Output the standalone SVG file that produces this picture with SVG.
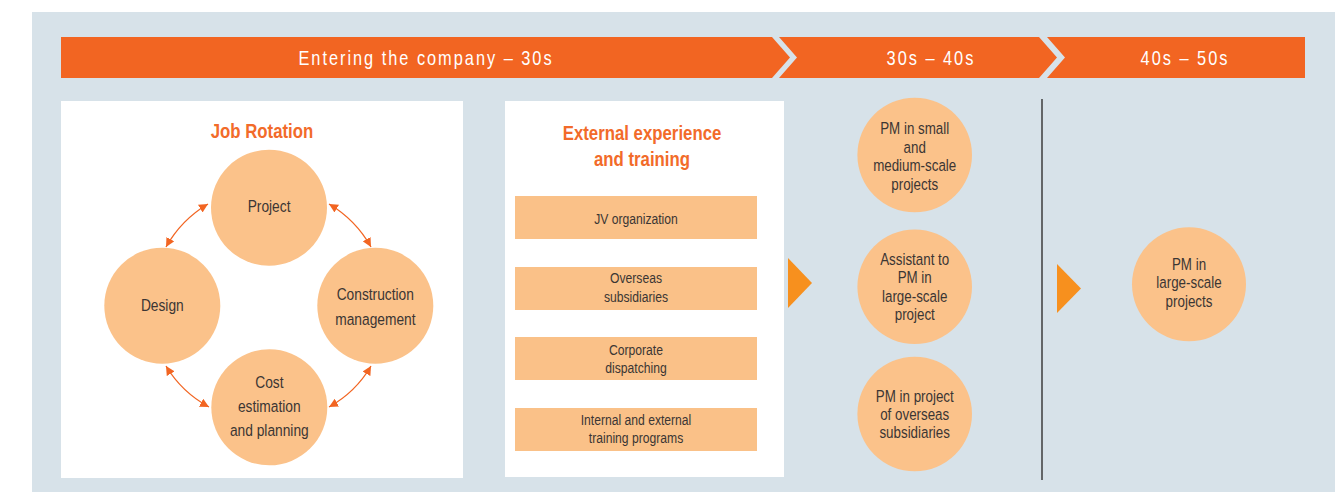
<svg xmlns="http://www.w3.org/2000/svg" width="1335" height="492" viewBox="0 0 1335 492">
  <style>
    .bg { fill: #d7e2e9; }
    .band { fill: #f26522; }
    .panel { fill: #ffffff; }
    .bubble { fill: #fbc28a; }
    .box { fill: #fac188; }
    .step { fill: #f7901e; }
    /* narrow look: horizontally condensed type around each label's own centre */
    .txt, .band-txt, .title { font-family: "Liberation Sans", Arial, sans-serif; text-anchor: middle; transform-box: fill-box; transform-origin: center; }
    .txt { fill: #3b3634; transform: scaleX(0.81); }
    .c17 { font-size: 17px; }
    .c16 { font-size: 16.5px; }
    .c15 { font-size: 15px; }
    .band-txt { font-size: 20px; fill: #ffffff; letter-spacing: 2.4px; transform: scaleX(0.82); }
    .title { font-size: 20px; font-weight: bold; fill: #f26b2a; transform: scaleX(0.84); }
    .link { fill: none; stroke: #f26522; stroke-width: 1.3; marker-start: url(#tip); marker-end: url(#tip); }
  </style>
  <defs>
    <marker id="tip" viewBox="0 0 10 10" refX="10" refY="5" markerWidth="9" markerHeight="9" markerUnits="userSpaceOnUse" orient="auto-start-reverse">
      <path d="M0,0 L10,5 L0,10 Z" fill="#f26522"/>
    </marker>
  </defs>

  <rect class="bg" x="32" y="12" width="1303" height="480"/>

  <!-- timeline band -->
  <g id="band-entry">
    <polygon class="band" points="61,37 772,37 790,57.5 772,78 61,78"/>
    <text class="band-txt" x="426" y="65.5">Entering the company – 30s</text>
  </g>
  <g id="band-30s">
    <polygon class="band" points="779,37 1039,37 1057,57.5 1039,78 779,78 797,57.5"/>
    <text class="band-txt" x="931" y="65.5">30s – 40s</text>
  </g>
  <g id="band-40s">
    <polygon class="band" points="1047,37 1305,37 1305,78 1047,78 1065,57.5"/>
    <text class="band-txt" x="1185" y="65.5">40s – 50s</text>
  </g>

  <!-- job rotation panel -->
  <g id="job-rotation">
    <rect class="panel" x="61" y="101" width="402" height="377"/>
    <text class="title" x="262" y="137.7">Job Rotation</text>
  </g>
  <g id="project">
    <circle class="bubble" cx="269" cy="207.7" r="58"/>
    <text class="txt c17" x="269" y="212.3">Project</text>
  </g>
  <g id="design">
    <circle class="bubble" cx="162.3" cy="305.7" r="58"/>
    <text class="txt c17" x="162.3" y="311">Design</text>
  </g>
  <g id="construction">
    <circle class="bubble" cx="375.3" cy="305.7" r="58"/>
    <text class="txt c17" x="375.3" y="300.5">Construction</text>
    <text class="txt c17" x="375.3" y="325">management</text>
  </g>
  <g id="cost">
    <circle class="bubble" cx="269.3" cy="407.3" r="58"/>
    <text class="txt c17" x="269.3" y="388.3">Cost</text>
    <text class="txt c17" x="269.3" y="412.3">estimation</text>
    <text class="txt c17" x="269.3" y="436">and planning</text>
  </g>

  <!-- external experience panel -->
  <g id="external">
    <rect class="panel" x="505" y="101" width="279" height="376"/>
    <text class="title" x="642" y="140">External experience</text>
    <text class="title" x="642" y="166">and training</text>
  </g>
  <g id="jv">
    <rect class="box" x="515" y="196" width="242" height="43"/>
    <text class="txt c15" x="636" y="224.3">JV organization</text>
  </g>
  <g id="overseas">
    <rect class="box" x="515" y="267" width="242" height="43"/>
    <text class="txt c15" x="636" y="283.3">Overseas</text>
    <text class="txt c15" x="636" y="301.7">subsidiaries</text>
  </g>
  <g id="dispatching">
    <rect class="box" x="515" y="337" width="242" height="43"/>
    <text class="txt c15" x="636" y="355">Corporate</text>
    <text class="txt c15" x="636" y="372.7">dispatching</text>
  </g>
  <g id="training">
    <rect class="box" x="515" y="408" width="242" height="43"/>
    <text class="txt c15" x="636" y="425">Internal and external</text>
    <text class="txt c15" x="636" y="443.3">training programs</text>
  </g>

  <!-- step markers and divider -->
  <g id="step-1">
    <polygon class="step" points="788,258 812,283 788,308"/>
  </g>
  <g id="step-2">
    <polygon class="step" points="1057,264 1081,288.5 1057,313"/>
  </g>
  <g id="divider">
    <line x1="1042" y1="99" x2="1042" y2="480" stroke="#3c3c3c" stroke-width="1.5"/>
  </g>

  <!-- 30s–40s roles -->
  <g id="pm-small">
    <circle class="bubble" cx="914.7" cy="155" r="57.3"/>
    <text class="txt c16" x="914.7" y="134.3">PM in small</text>
    <text class="txt c16" x="914.7" y="152.8">and</text>
    <text class="txt c16" x="914.7" y="171.3">medium-scale</text>
    <text class="txt c16" x="914.7" y="189.8">projects</text>
  </g>
  <g id="assistant">
    <circle class="bubble" cx="914.7" cy="286.7" r="57.3"/>
    <text class="txt c16" x="914.7" y="265">Assistant to</text>
    <text class="txt c16" x="914.7" y="283.5">PM in</text>
    <text class="txt c16" x="914.7" y="302">large-scale</text>
    <text class="txt c16" x="914.7" y="320.5">project</text>
  </g>
  <g id="pm-overseas">
    <circle class="bubble" cx="914.7" cy="414" r="57.3"/>
    <text class="txt c16" x="914.7" y="401.7">PM in project</text>
    <text class="txt c16" x="914.7" y="420">of overseas</text>
    <text class="txt c16" x="914.7" y="438.3">subsidiaries</text>
  </g>

  <!-- 40s–50s role -->
  <g id="pm-large">
    <circle class="bubble" cx="1189" cy="284.3" r="57"/>
    <text class="txt c16" x="1189" y="270">PM in</text>
    <text class="txt c16" x="1189" y="288.3">large-scale</text>
    <text class="txt c16" x="1189" y="306.7">projects</text>
  </g>

  <!-- rotation connectors -->
  <g id="connectors">
    <path class="link" d="M208,204 Q181.3,219.8 166,247"/>
    <path class="link" d="M329,204 Q355.7,219.8 371,247"/>
    <path class="link" d="M166,366 Q181.8,392.2 209,407"/>
    <path class="link" d="M371,366 Q355.7,392.2 329,407"/>
  </g>
</svg>
